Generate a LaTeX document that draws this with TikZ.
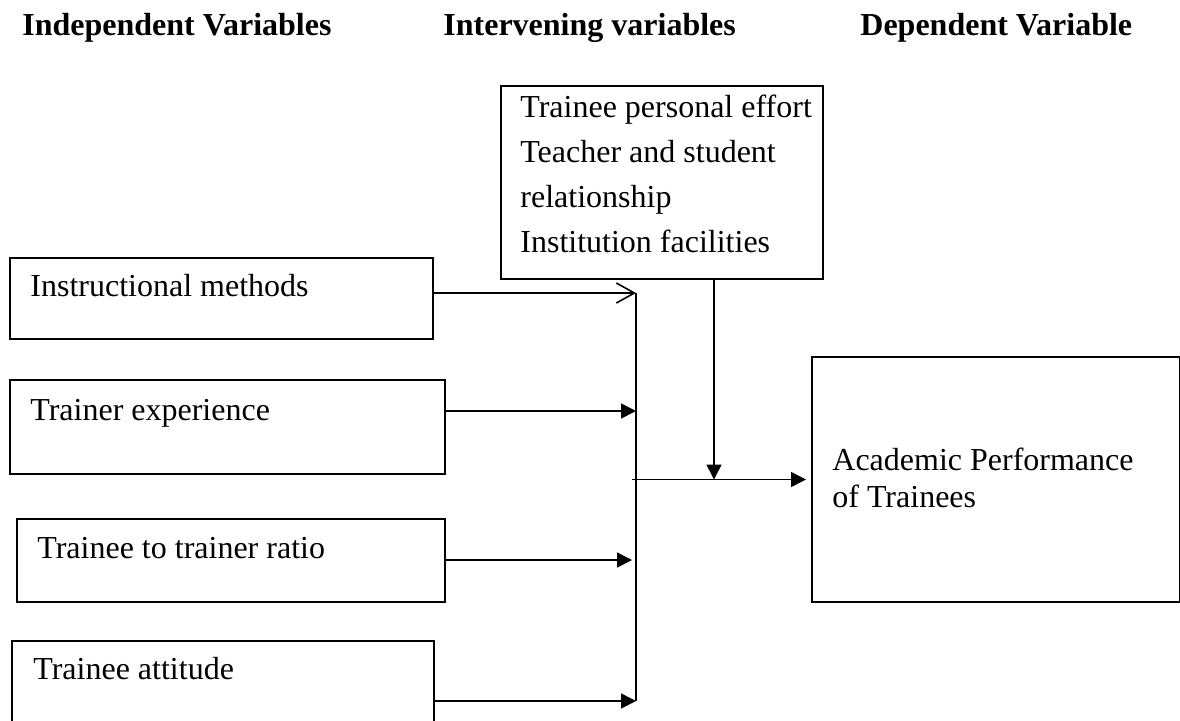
\documentclass[tikz,border=0pt]{standalone}
\usepackage{fontspec}
\setmainfont{Liberation Serif}
\usetikzlibrary{arrows.meta,positioning}
\tikzset{
  box/.style={draw,line width=1pt,inner sep=0pt,anchor=north west},
  txt/.style={inner sep=0pt,anchor=base west,font=\fontsize{16}{22.5}\selectfont},
  head/.style={txt,font=\fontsize{16}{20}\selectfont\bfseries},
  link/.style={line width=0.8pt,-{Triangle[length=7.5pt,width=7.5pt]}},
  openlink/.style={line width=0.8pt,-{Straight Barb[length=9pt,width=10pt,line width=0.8pt]}},
}
\begin{document}
\begin{tikzpicture}[x=0.5pt,y=-0.5pt]
  \useasboundingbox (0,0) rectangle (1180,720);
  % headings
  \node[head] (hind) at (22,35) {Independent Variables};
  \node[head] (hint) at (443,35) {Intervening variables};
  \node[head] (hdep) at (860,35) {Dependent Variable};
  % independent variables
  \node[box,minimum width=211.5pt,minimum height=40.5pt] (im) at (9,257) {};
  \node[box,minimum width=217.5pt,minimum height=47pt] (te) at (9,379) {};
  \node[box,minimum width=214pt,minimum height=41.5pt] (tr) at (16,518) {};
  \node[box,minimum width=211pt,minimum height=42pt] (ta) at (11,640) {};
  \node[txt] (im-t) at ([shift={(21,39)}]im.north west) {Instructional methods};
  \node[txt] (te-t) at ([shift={(21,41)}]te.north west) {Trainer experience};
  \node[txt] (tr-t) at ([shift={(21,40)}]tr.north west) {Trainee to trainer ratio};
  \node[txt] (ta-t) at ([shift={(22,39)}]ta.north west) {Trainee attitude};
  % intervening and dependent variables
  \node[box,minimum width=161pt,minimum height=96.5pt] (iv) at (500,85) {};
  \node[txt,anchor=north west,align=left] (iv-t) at ([shift={(20,10)}]iv.north west)
    {Trainee personal effort\\Teacher and student\\relationship\\Institution facilities};
  \node[box,minimum width=184pt,minimum height=122.5pt] (ap) at (811,356) {};
  \node[txt,anchor=north west,align=left,font=\fontsize{16}{18.5}\selectfont] (ap-t)
    at ([shift={(21,92)}]ap.north west) {Academic Performance\\of Trainees};
  % connectors
  \coordinate (bustop) at (636,293);
  \coordinate (busbot) at (636,701);
  \coordinate (im-out) at ([shift={(0,36)}]im.north east);
  \coordinate (te-out) at ([shift={(0,32)}]te.north east);
  \coordinate (tr-out) at ([shift={(0,42)}]tr.north east);
  \coordinate (ta-out) at ([shift={(0,61)}]ta.north east);
  \coordinate (iv-out) at ([shift={(52,0)}]iv.south);
  \draw[line width=0.8pt] (bustop) -- (busbot);
  \draw[openlink] (im-out) -- (im-out -| bustop);
  \draw[link] (te-out) -- (te-out -| bustop);
  \draw[link] (tr-out) -- ([shift={(-4,0)}]tr-out -| bustop);
  \draw[link] (ta-out) -- (ta-out -| bustop);
  \draw[link,shorten >=2.5pt] ([shift={(-4,0)}]ap.west -| bustop) -- (ap.west);
  \draw[link] (iv-out) -- (iv-out |- ap.west);
\end{tikzpicture}
\end{document}
